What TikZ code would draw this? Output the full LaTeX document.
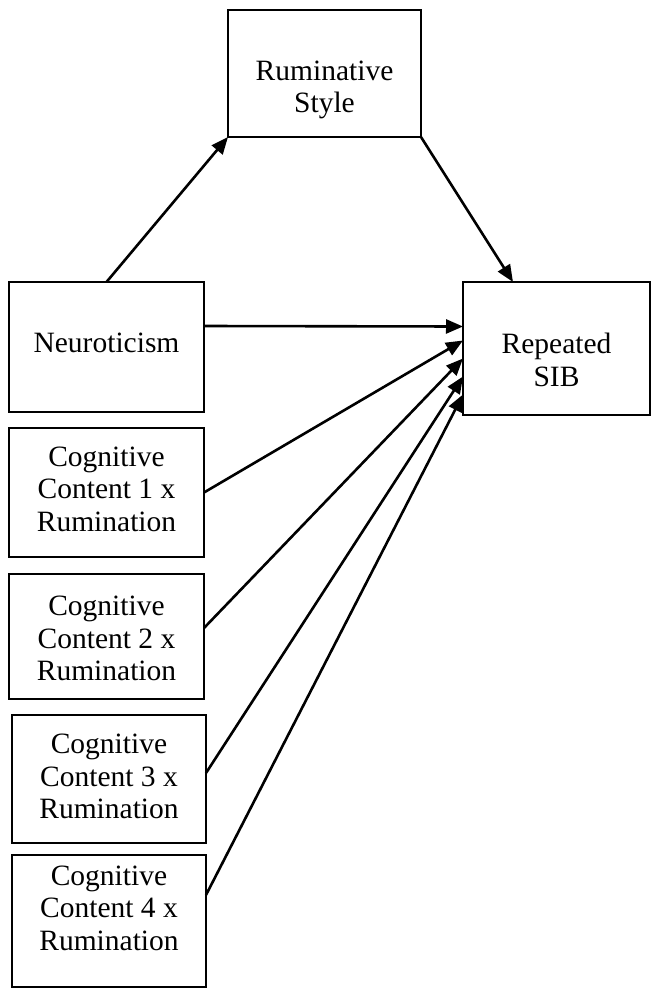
\documentclass[tikz,border=0pt]{standalone}
\usepackage{fontspec}
\setmainfont{Liberation Serif}
\usetikzlibrary{arrows.meta}
\begin{document}
\begin{tikzpicture}[x=1pt,y=-1pt,
  varbox/.style={draw, line width=2.8pt, rectangle, inner sep=0pt, outer sep=0pt},
  boxtext/.style={align=center, font=\fontsize{29.5}{32.5}\selectfont, inner sep=0pt},
  path/.style={line width=2.6pt, -{Triangle[length=17pt,width=14pt]}}]
  \useasboundingbox (0,0) rectangle (652,988);

  % variable boxes: centre, width x height
  \node[varbox, minimum width=193pt, minimum height=127pt,
        label={[boxtext, yshift=-16.5pt]center:Ruminative\\Style}] (rum) at (324.5,73.5) {};
  \node[varbox, minimum width=195pt, minimum height=130pt,
        label={[boxtext, yshift=4pt]center:Neuroticism}] (neuro) at (106.5,347) {};
  \node[varbox, minimum width=187pt, minimum height=133pt,
        label={[boxtext, yshift=-11.5pt]center:Repeated\\SIB}] (sib) at (556.5,348.5) {};
  \node[varbox, minimum width=195pt, minimum height=129pt,
        label={[boxtext, yshift=3.5pt]center:Cognitive\\Content 1 x\\Rumination}] (cc1) at (106.5,492.5) {};
  \node[varbox, minimum width=195pt, minimum height=125pt,
        label={[boxtext, yshift=-2pt]center:Cognitive\\Content 2 x\\Rumination}] (cc2) at (106.5,636.5) {};
  \node[varbox, minimum width=194pt, minimum height=128pt,
        label={[boxtext, yshift=2.5pt]center:Cognitive\\Content 3 x\\Rumination}] (cc3) at (109,779) {};
  \node[varbox, minimum width=194pt, minimum height=132pt,
        label={[boxtext, yshift=13pt]center:Cognitive\\Content 4 x\\Rumination}] (cc4) at (109,921) {};

  % paths
  \draw[path] (neuro.north) -- (rum.south west);
  \draw[path] (rum.south east) -- ([xshift=50pt]sib.north west);
  \draw[path] ([yshift=21pt]neuro.east) -- ([yshift=22pt]sib.west);
  \draw[path] (cc1.east) -- ([yshift=8pt]sib.west);
  \draw[path] ([yshift=8.5pt]cc2.east) -- ([yshift=-10pt]sib.west);
  \draw[path] ([yshift=6pt]cc3.east) -- ([yshift=-28pt]sib.west);
  \draw[path] ([yshift=26pt]cc4.east) -- ([yshift=-46pt]sib.west);
\end{tikzpicture}
\end{document}
